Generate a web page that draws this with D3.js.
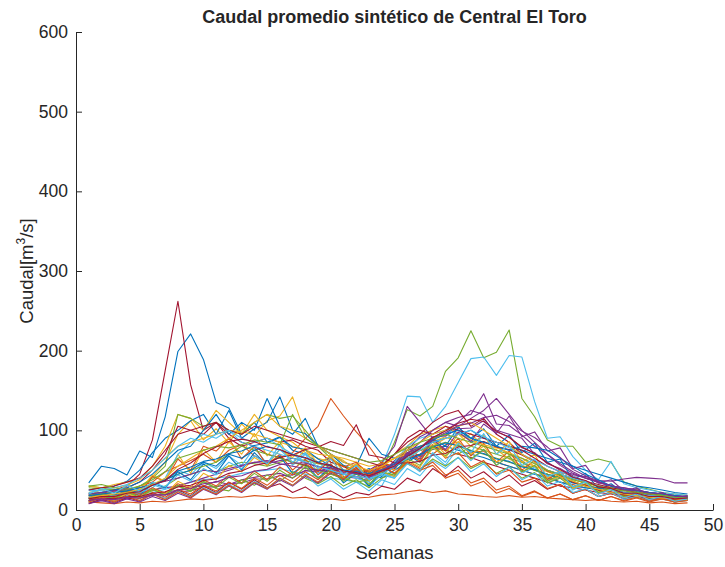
<!DOCTYPE html>
<html><head><meta charset="utf-8">
<script src="https://cdn.jsdelivr.net/npm/d3@7"></script>
<style>
body{margin:0;background:#fff}
svg{display:block}
text{font-family:"Liberation Sans",Arial,Helvetica,sans-serif;fill:#262626}
</style></head><body>
<svg id="chart" width="725" height="567"></svg>
<script>
const weeks = [1,2,3,4,5,6,7,8,9,10,11,12,13,14,15,16,17,18,19,20,21,22,23,24,25,26,27,28,29,30,31,32,33,34,35,36,37,38,39,40,41,42,43,44,45,46,47,48];
const xTicks = [0,5,10,15,20,25,30,35,40,45,50];
const yTicks = [0,100,200,300,400,500,600];
const colors = ["#0072BD","#D95319","#EDB120","#7E2F8E","#77AC30","#4DBEEE","#A2142F"];

const s01 = [34,55,52,44,74,66,117,199,221,189,135,128,95,110,85,92,75,70,60,66,50,45,52,42,60,75,68,90,95,105,85,92,80,70,62,50,45,40,36,30,28,25,22,20,18,20,17,15];
const s02 = [20,18,24,22,30,35,48,55,62,70,60,75,82,68,60,66,72,90,105,140,118,98,80,58,55,68,75,70,82,85,72,74,60,55,50,45,42,35,32,28,26,22,20,18,15,17,15,14];
const s03 = [12,16,18,22,25,42,60,95,112,88,102,84,108,92,112,118,142,95,82,70,62,50,45,56,65,72,80,86,92,84,96,80,76,64,56,50,45,40,36,30,26,22,20,18,16,15,14,12];
const s04 = [10,12,11,14,16,18,22,25,29,30,36,32,38,41,44,46,40,50,47,45,42,40,37,46,62,75,92,100,110,116,120,146,108,106,94,80,70,56,46,40,36,30,28,25,22,20,18,16];
const s05 = [30,28,25,22,20,24,30,40,45,50,48,55,60,58,55,60,65,62,58,55,50,48,45,50,85,126,118,130,174,191,225,191,198,226,140,117,88,80,80,60,64,60,35,30,26,22,20,18];
const s06 = [15,14,16,18,20,22,26,30,35,38,40,42,46,48,50,52,48,45,42,40,38,35,30,55,95,143,142,110,130,160,190,192,169,194,192,136,90,92,67,50,38,61,33,28,25,22,20,18];
const s07 = [18,20,25,30,45,88,175,262,157,100,110,95,85,80,70,66,60,56,50,48,45,42,40,46,55,65,70,80,75,70,66,60,55,50,45,40,35,30,28,25,22,20,18,16,15,14,13,12];
const s08 = [25,28,30,36,50,72,90,100,112,120,95,125,90,102,110,142,100,96,80,70,56,50,45,40,50,60,70,76,80,75,70,66,60,55,50,45,40,35,30,28,25,22,20,18,16,15,14,13];
const s09 = [10,9,8,10,9,11,10,12,14,13,15,17,16,18,17,18,15,16,13,14,12,15,16,19,20,23,25,22,24,20,19,17,16,18,16,17,15,14,13,12,13,11,10,11,9,10,8,9];
const s10 = [22,25,28,31,38,55,80,120,115,100,125,110,95,120,100,92,85,72,65,60,55,50,48,52,70,80,95,100,105,96,90,85,80,70,60,55,50,45,40,35,30,28,25,22,20,18,17,16];
const s11 = [15,18,16,20,22,25,28,30,35,40,45,50,55,60,58,62,65,60,55,50,48,45,50,60,80,130,110,90,100,110,125,120,100,95,90,70,60,50,45,40,35,30,28,25,22,20,18,17];
const s12 = [28,26,25,24,30,40,55,120,115,105,110,100,95,110,120,115,118,100,80,65,55,50,48,45,60,70,80,85,75,70,80,75,70,65,60,50,45,40,35,30,28,25,22,20,18,17,16,15];
const s13 = [12,19,13,24,18,32,26,50,44,60,52,68,56,78,58,82,56,70,46,58,38,48,30,44,40,60,48,70,56,78,62,76,56,68,46,54,34,42,25,33,21,27,17,22,15,18,13,15];
const s14 = [20,22,25,28,35,50,70,105,100,95,110,90,80,85,90,85,88,80,75,60,55,45,50,55,70,85,95,110,120,125,105,115,95,85,70,60,50,45,40,35,30,28,25,22,20,18,17,16];
const s15 = [14,20,13,24,18,34,28,48,38,58,46,68,50,72,56,68,46,58,40,54,34,46,30,48,42,70,60,90,80,104,90,102,80,94,72,84,60,64,38,46,27,33,21,27,17,22,14,18];
const s16 = [15,22,15,27,20,42,36,64,50,80,74,90,64,80,56,70,50,64,44,58,40,54,36,56,50,80,66,90,74,90,68,84,60,74,50,62,38,48,28,36,20,27,16,23,13,19,12,16];
const s17 = [18,26,18,32,24,44,36,70,46,76,60,86,70,96,68,86,58,76,50,66,40,58,36,60,50,76,60,86,70,96,80,94,70,86,60,70,40,50,27,37,22,31,17,26,14,21,12,18];
const s18 = [10,12,11,15,15,19,19,23,24,29,29,33,34,39,39,43,44,49,49,53,49,49,44,51,59,72,78,92,93,102,103,112,98,92,78,72,58,52,43,42,37,36,39,41,40,39,34,34];
const s19 = [12,18,13,22,15,26,19,30,23,35,27,24,38,31,44,36,48,40,33,42,30,38,28,40,46,58,50,64,55,66,52,60,46,54,40,47,34,40,28,32,22,27,18,22,15,19,13,16];
const s20 = [25,24,22,20,22,28,40,70,85,95,90,100,85,80,75,70,65,60,55,50,45,40,35,30,60,80,90,95,100,95,90,85,80,75,70,60,50,45,40,35,30,28,25,22,20,18,16,15];
const s21 = [8,14,9,16,11,20,14,25,18,30,22,35,26,38,28,33,22,29,18,24,15,22,19,30,26,40,34,52,42,55,40,48,35,44,30,37,26,32,21,26,17,21,14,18,12,15,10,13];
const s22 = [20,22,25,28,35,45,60,75,80,100,120,95,110,100,140,105,95,115,80,70,60,55,90,70,65,75,80,85,90,95,100,90,85,80,75,70,65,60,55,50,45,40,35,30,28,25,22,20];
const s23 = [12,17,11,19,14,22,16,26,20,31,24,35,27,40,31,44,35,48,38,52,44,58,47,60,54,70,62,82,65,72,54,62,45,50,35,40,27,32,21,26,17,21,14,17,12,14,10,12];
const s24 = [30,28,32,35,40,50,65,80,85,90,95,100,98,95,90,85,80,75,70,68,65,60,55,58,65,70,75,80,90,95,88,82,78,72,65,55,48,42,38,34,30,28,25,23,21,19,17,15];
const s25 = [8,12,8,14,10,17,12,21,15,26,19,30,22,34,26,38,30,42,34,46,38,52,44,58,52,72,64,88,76,98,86,108,96,118,92,98,74,78,52,56,34,38,24,28,18,22,15,18];
const s26 = [18,20,22,25,28,32,38,45,50,55,60,70,80,75,70,65,60,55,50,45,40,35,38,45,55,65,75,80,85,80,75,70,65,60,55,50,45,40,35,30,25,22,20,18,16,15,14,13];
const s27 = [10,15,10,18,12,20,14,24,17,28,21,32,24,36,27,40,31,44,30,39,26,35,24,38,32,52,43,62,52,66,48,58,42,54,38,46,30,36,22,27,17,22,13,17,11,14,10,12];
const s28 = [25,28,30,35,40,55,75,95,100,105,110,100,95,105,100,95,90,85,80,75,70,65,60,55,70,90,100,95,105,100,95,90,85,80,75,65,55,48,42,36,32,28,25,22,20,18,16,15];
const s29 = [16,19,19,23,24,31,37,49,54,61,64,71,74,81,84,91,79,76,64,56,49,46,41,49,54,63,69,79,84,81,74,71,64,61,54,51,44,41,34,31,27,26,21,21,17,17,14,15];
const s30 = [14,20,15,24,18,28,21,33,26,38,30,44,34,49,38,54,44,58,48,64,54,60,44,54,46,62,52,60,44,50,34,40,25,30,18,24,15,20,13,18,12,17,11,15,10,14,10,12];
const s31 = [10,16,12,21,15,26,20,36,28,46,38,56,48,66,56,76,66,78,58,68,48,58,40,48,42,62,54,78,66,86,70,80,60,68,48,56,36,42,28,33,22,27,17,22,14,18,12,15];
const s32 = [20,22,24,26,28,32,36,40,45,50,48,52,56,60,62,58,55,52,50,48,45,42,40,46,55,70,85,100,110,105,115,125,140,120,100,85,70,58,48,40,35,30,27,25,22,20,18,16];
const s33 = [14,20,14,23,16,26,19,31,24,36,28,41,33,46,36,50,40,54,40,50,36,46,32,48,44,65,56,80,68,82,64,76,56,68,48,56,36,45,29,36,22,28,17,23,14,20,13,17];
const s34 = [22,25,28,32,40,50,65,80,90,85,95,100,90,85,90,80,70,60,55,50,45,42,40,45,55,65,75,85,90,95,100,92,85,78,70,62,55,48,42,36,30,26,22,20,18,17,16,15];
const s35 = [12,15,14,17,17,21,23,29,31,37,39,46,49,56,59,66,69,76,79,86,81,107,69,66,59,59,61,69,71,79,81,86,79,76,69,61,49,43,35,31,25,23,19,19,15,16,13,14];
const s36 = [18,20,22,24,28,32,38,45,50,60,55,70,65,75,80,75,70,65,60,55,50,48,46,50,58,68,78,88,95,100,90,85,80,75,80,78,75,65,55,45,38,30,26,24,22,20,18,16];
const s37 = [10,15,10,17,12,20,13,23,16,27,20,31,23,35,27,40,31,44,35,48,39,52,42,56,46,60,50,56,40,46,30,36,21,27,17,23,15,20,13,18,12,17,12,16,11,15,10,13];
const s38 = [16,18,20,22,26,32,40,55,65,75,80,90,100,110,120,105,100,90,80,70,60,55,50,55,65,75,85,95,100,105,110,100,90,80,70,60,50,42,36,30,26,22,20,18,16,15,14,13];
const s39 = [12,14,13,16,15,19,19,25,27,33,35,41,43,49,51,57,59,59,54,53,47,46,41,49,57,69,77,89,97,106,109,116,119,111,99,91,79,66,51,43,34,31,25,25,21,21,17,17];
const s40 = [30,32,28,26,30,38,48,65,70,75,80,78,82,88,85,82,120,90,80,75,70,65,60,62,70,78,85,90,95,90,85,80,75,70,65,58,50,44,38,34,30,26,24,22,20,18,16,15];
const s41 = [20,27,21,31,24,35,29,44,36,52,44,60,52,68,58,76,60,72,52,64,44,56,38,46,40,58,50,72,60,84,72,96,70,82,56,64,42,48,29,35,20,26,15,20,13,17,11,14];
const s42 = [14,17,17,21,23,31,37,51,59,71,79,86,89,86,79,76,69,66,59,56,49,47,43,49,55,67,77,91,99,109,114,111,99,91,79,71,59,51,41,37,29,27,21,21,17,17,14,15];

const series = [s01,s02,s03,s04,s05,s06,s07,s08,s09,s10,s11,s12,s13,s14,s15,s16,s17,s18,s19,s20,s21,
  s22,s23,s24,s25,s26,s27,s28,s29,s30,s31,s32,s33,s34,s35,s36,s37,s38,s39,s40,s41,s42];

const svg = d3.select("#chart");
const x = d3.scaleLinear().domain([0,50]).range([76,713]);
const y = d3.scaleLinear().domain([0,600]).range([510,32]);

const line = d3.line().x((d,i)=>x(weeks[i])).y(d=>y(d));
svg.append("g").selectAll("path").data(series).join("path")
  .attr("d", line)
  .attr("fill","none")
  .attr("stroke",(d,i)=>colors[i%colors.length])
  .attr("stroke-width",1.1)
  .attr("stroke-linejoin","round");

const gx = svg.append("g").attr("transform","translate(0,510)")
  .call(d3.axisBottom(x).tickValues(xTicks).tickSizeInner(-6).tickSizeOuter(0).tickPadding(9));
const gy = svg.append("g").attr("transform","translate(76,0)")
  .call(d3.axisLeft(y).tickValues(yTicks).tickSizeInner(-6).tickSizeOuter(0).tickPadding(8));
[gx,gy].forEach(g=>{
  g.select(".domain").attr("stroke","#262626").attr("stroke-width",1);
  g.selectAll(".tick line").attr("stroke","#262626");
  g.selectAll(".tick text").attr("font-size",17.5).attr("font-family",'"Liberation Sans",Arial,sans-serif').attr("fill","#262626");
});

svg.append("text").attr("x",394.5).attr("y",23).attr("text-anchor","middle")
  .attr("font-size",18).attr("font-weight","bold").attr("fill","#000")
  .text("Caudal promedio sintético de Central El Toro");

svg.append("text").attr("x",394.5).attr("y",559).attr("text-anchor","middle")
  .attr("font-size",18.5).text("Semanas");

const yl = svg.append("text").attr("transform","translate(33,271) rotate(-90)")
  .attr("text-anchor","middle").attr("font-size",18.5);
yl.append("tspan").text("Caudal[m");
yl.append("tspan").attr("font-size",12).attr("dy",-8).text("3");
yl.append("tspan").attr("dy",8).text("/s]");
</script></body></html>
